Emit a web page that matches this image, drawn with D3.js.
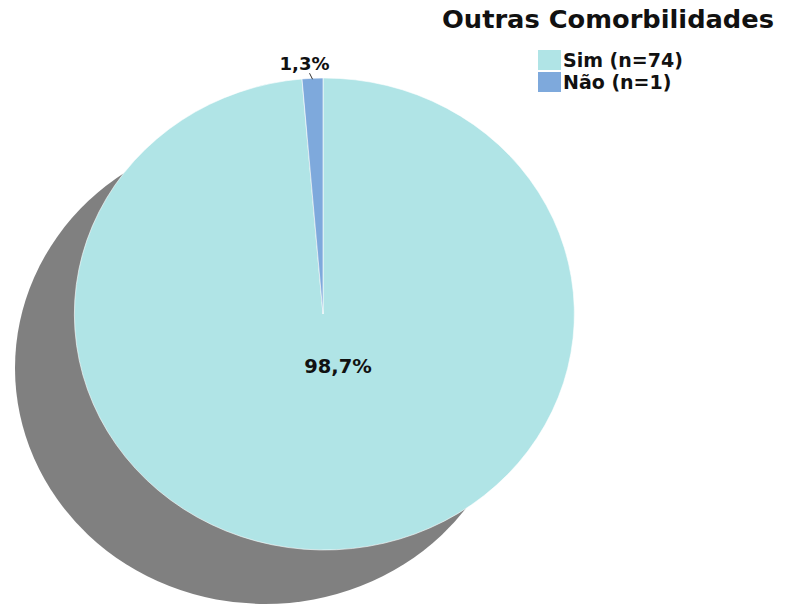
<!DOCTYPE html>
<html><head><meta charset="utf-8">
<script src="https://cdn.jsdelivr.net/npm/d3@7"></script>
<style>body{margin:0;background:#fff}svg{display:block}</style>
</head><body>
<script>
const categories = ["Sim", "Não"];
const counts = [74, 1];
const percentLabels = ["98,7%", "1,3%"];
const legendLabels = ["Sim (n=74)", "Não (n=1)"];
const title = "Outras Comorbilidades";
const colors = ["#b0e4e6", "#7ea9dc"];

const W = 787, H = 606;
const svg = d3.select("body").append("svg").attr("width", W).attr("height", H);
const font = "DejaVu Sans";

const cx = 323, cy = 314, rx = 250, ry = 236;
const data = categories.map((c, i) => ({cat: c, n: counts[i], pct: percentLabels[i], color: colors[i]}));
const pie = d3.pie().sort(null).value(d => d.n);
const arcs = pie(data);
const arc = d3.arc().innerRadius(0).outerRadius(1);

// shadow
svg.append("ellipse").attr("cx", cx - 58).attr("cy", cy + 54).attr("rx", rx).attr("ry", ry).attr("fill", "#808080");

const g = svg.append("g").attr("transform", `translate(${cx},${cy}) scale(${rx},${ry})`);
g.selectAll("path").data(arcs).join("path")
  .attr("d", arc).attr("fill", d => d.data.color)
  .attr("stroke", "#ffffff").attr("stroke-width", 0.6).attr("vector-effect", "non-scaling-stroke");

// labels
const big = arcs[0];
svg.append("text").attr("x", cx + 15).attr("y", cy + 59).attr("text-anchor", "middle")
  .attr("font-family", font).attr("font-weight", "bold").attr("font-size", 19.5).attr("fill", "#111")
  .text(big.data.pct);

const small = arcs[1];
const mid = (small.startAngle + small.endAngle) / 2;
const ex = cx + Math.sin(mid) * rx, ey = cy - Math.cos(mid) * ry;
svg.append("line").attr("x1", ex).attr("y1", ey + 1).attr("x2", ex - 3).attr("y2", ey - 5)
  .attr("stroke", "#333").attr("stroke-width", 1);
svg.append("text").attr("x", ex - 8).attr("y", ey - 8).attr("text-anchor", "middle")
  .attr("font-family", font).attr("font-weight", "bold").attr("font-size", 18).attr("fill", "#111")
  .text(small.data.pct);

// title
svg.append("text").attr("x", 442).attr("y", 28).attr("text-anchor", "start")
  .attr("font-family", font).attr("font-weight", "bold").attr("font-size", 25).attr("fill", "#111")
  .attr("textLength", 332).attr("lengthAdjust", "spacingAndGlyphs")
  .text(title);

// legend
const lg = svg.append("g").attr("transform", "translate(538,50)");
data.forEach((d, i) => {
  lg.append("rect").attr("x", 0).attr("y", i * 22).attr("width", 23).attr("height", 20).attr("fill", d.color);
  lg.append("text").attr("x", 25).attr("y", i * 22 + 17)
    .attr("font-family", font).attr("font-weight", "bold").attr("font-size", 19).attr("fill", "#111")
    .text(legendLabels[i]);
});
</script>
</body></html>
